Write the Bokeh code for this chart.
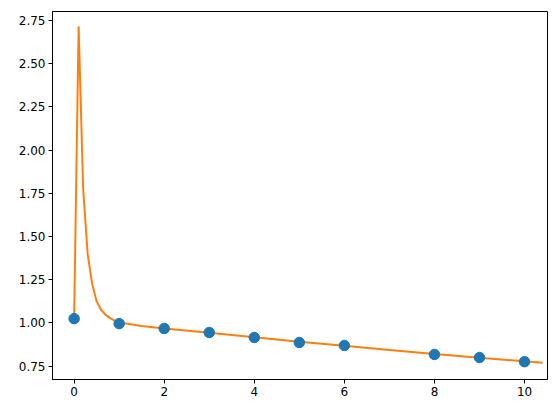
from bokeh.plotting import figure
from bokeh.models import FixedTicker, PrintfTickFormatter, Range1d
from bokeh.embed import file_html
from bokeh.resources import INLINE

# data points
pt_x = [0, 1, 2, 3, 4, 5, 6, 8, 9, 10]
pt_y = [1.025, 0.996, 0.968, 0.945, 0.916, 0.887, 0.870, 0.818, 0.800, 0.776]

# fitted / interpolated curve
line_x = [0.0, 0.1, 0.2, 0.3, 0.4, 0.5, 0.6, 0.7, 0.8, 0.9, 1.0, 1.5,
          2, 3, 4, 5, 6, 7, 8, 9, 10, 10.4]
line_y = [1.025, 2.715, 1.78, 1.40, 1.227, 1.125, 1.075, 1.047, 1.028, 1.014, 1.003, 0.982,
          0.968, 0.944, 0.917, 0.891, 0.868, 0.843, 0.820, 0.799, 0.778, 0.770]

x_ticks = [0, 2, 4, 6, 8, 10]
y_ticks = [0.75, 1.00, 1.25, 1.50, 1.75, 2.00, 2.25, 2.50, 2.75]

p = figure(width=548, height=405, output_backend="svg", toolbar_location=None,
           x_range=Range1d(-0.48, 10.51), y_range=Range1d(0.673, 2.801),
           min_border_left=52, min_border_right=1, min_border_top=11, min_border_bottom=26)

p.line(line_x, line_y, line_color="#ff7f0e", line_width=2)
p.scatter(pt_x, pt_y, size=10.5, fill_color="#1f77b4", line_color="#1f77b4")

p.xgrid.visible = False
p.ygrid.visible = False
p.outline_line_color = "black"
p.outline_line_width = 1
p.outline_line_alpha = 1
p.background_fill_color = "white"
p.border_fill_color = "white"

for ax in (p.xaxis[0], p.yaxis[0]):
    ax.axis_line_color = "black"
    ax.major_tick_line_color = "black"
    ax.major_tick_in = 0
    ax.major_tick_out = 4
    ax.minor_tick_line_color = None
    ax.major_label_text_font = "DejaVu Sans"
    ax.major_label_text_font_size = "12px"
    ax.major_label_text_color = "black"
    ax.major_label_standoff = 3

p.xaxis.ticker = FixedTicker(ticks=x_ticks)
p.yaxis.ticker = FixedTicker(ticks=y_ticks)
p.yaxis.formatter = PrintfTickFormatter(format="%.2f")

open("out.html", "w").write(file_html(p, INLINE))
